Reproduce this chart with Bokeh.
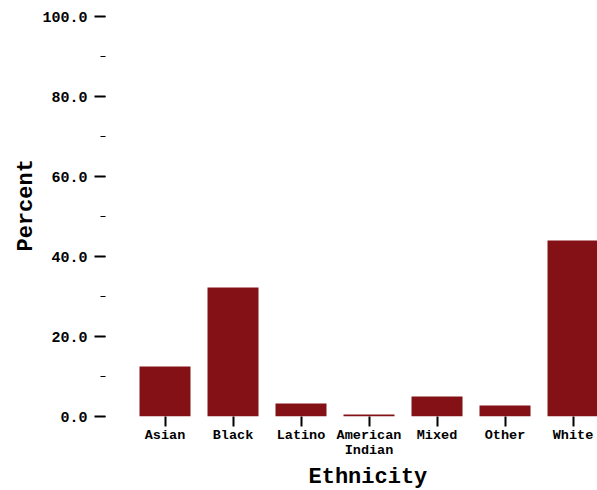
from bokeh.plotting import figure
from bokeh.models import Range1d, FixedTicker, SingleIntervalTicker, NumeralTickFormatter, Title
from bokeh.embed import file_html
from bokeh.resources import INLINE

categories = ["Asian", "Black", "Latino", "American\nIndian", "Mixed", "Other", "White"]
percent = [12.5, 32.25, 3.25, 0.5, 5.0, 2.75, 44.0]

FONT = "Liberation Mono"
BAR = "#831116"

xs = list(range(len(categories)))

p = figure(frame_width=492, frame_height=400, output_backend="svg", toolbar_location=None,
           x_range=Range1d(-0.875, 6.36), y_range=Range1d(0, 100),
           min_border_left=105, min_border_right=0, min_border_top=16, min_border_bottom=74)
p.outline_line_color = None
p.grid.grid_line_color = None
p.background_fill_color = "white"
p.border_fill_color = "white"

p.vbar(x=xs, top=percent, bottom=0, width=0.75, fill_color=BAR, line_color=None)

# x axis
xa = p.xaxis[0]
xa.ticker = FixedTicker(ticks=xs)
xa.major_label_overrides = {i: c for i, c in zip(xs, categories)}
xa.axis_line_color = None
xa.major_tick_in = 0
xa.major_tick_out = 10
xa.major_tick_line_width = 2
xa.minor_tick_line_color = None
xa.major_label_text_font = FONT
xa.major_label_text_font_style = "bold"
xa.major_label_text_font_size = "13.5px"
xa.major_label_text_line_height = 1.0
xa.major_label_text_color = "black"
xa.major_label_standoff = 1

# y axis
ya = p.yaxis[0]
ya.ticker = SingleIntervalTicker(interval=20, num_minor_ticks=2)
ya.formatter = NumeralTickFormatter(format="0.0")
ya.axis_line_color = None
ya.major_tick_in = 0
ya.major_tick_out = 11
ya.major_tick_line_width = 2
ya.minor_tick_in = 0
ya.minor_tick_out = 5
ya.minor_tick_line_width = 1
ya.major_label_text_font = FONT
ya.major_label_text_font_style = "bold"
ya.major_label_text_font_size = "15px"
ya.major_label_text_color = "black"
ya.major_label_standoff = 7

# axis titles, offset like the original
p.add_layout(Title(text="Ethnicity", align="left", offset=203, standoff=4,
                   text_font=FONT, text_font_style="bold", text_font_size="22px",
                   text_color="black"), "below")
p.add_layout(Title(text="Percent", align="left", offset=165, standoff=2,
                   text_font=FONT, text_font_style="bold", text_font_size="22px",
                   text_color="black"), "left")

open("out.html", "w").write(file_html(p, INLINE))
